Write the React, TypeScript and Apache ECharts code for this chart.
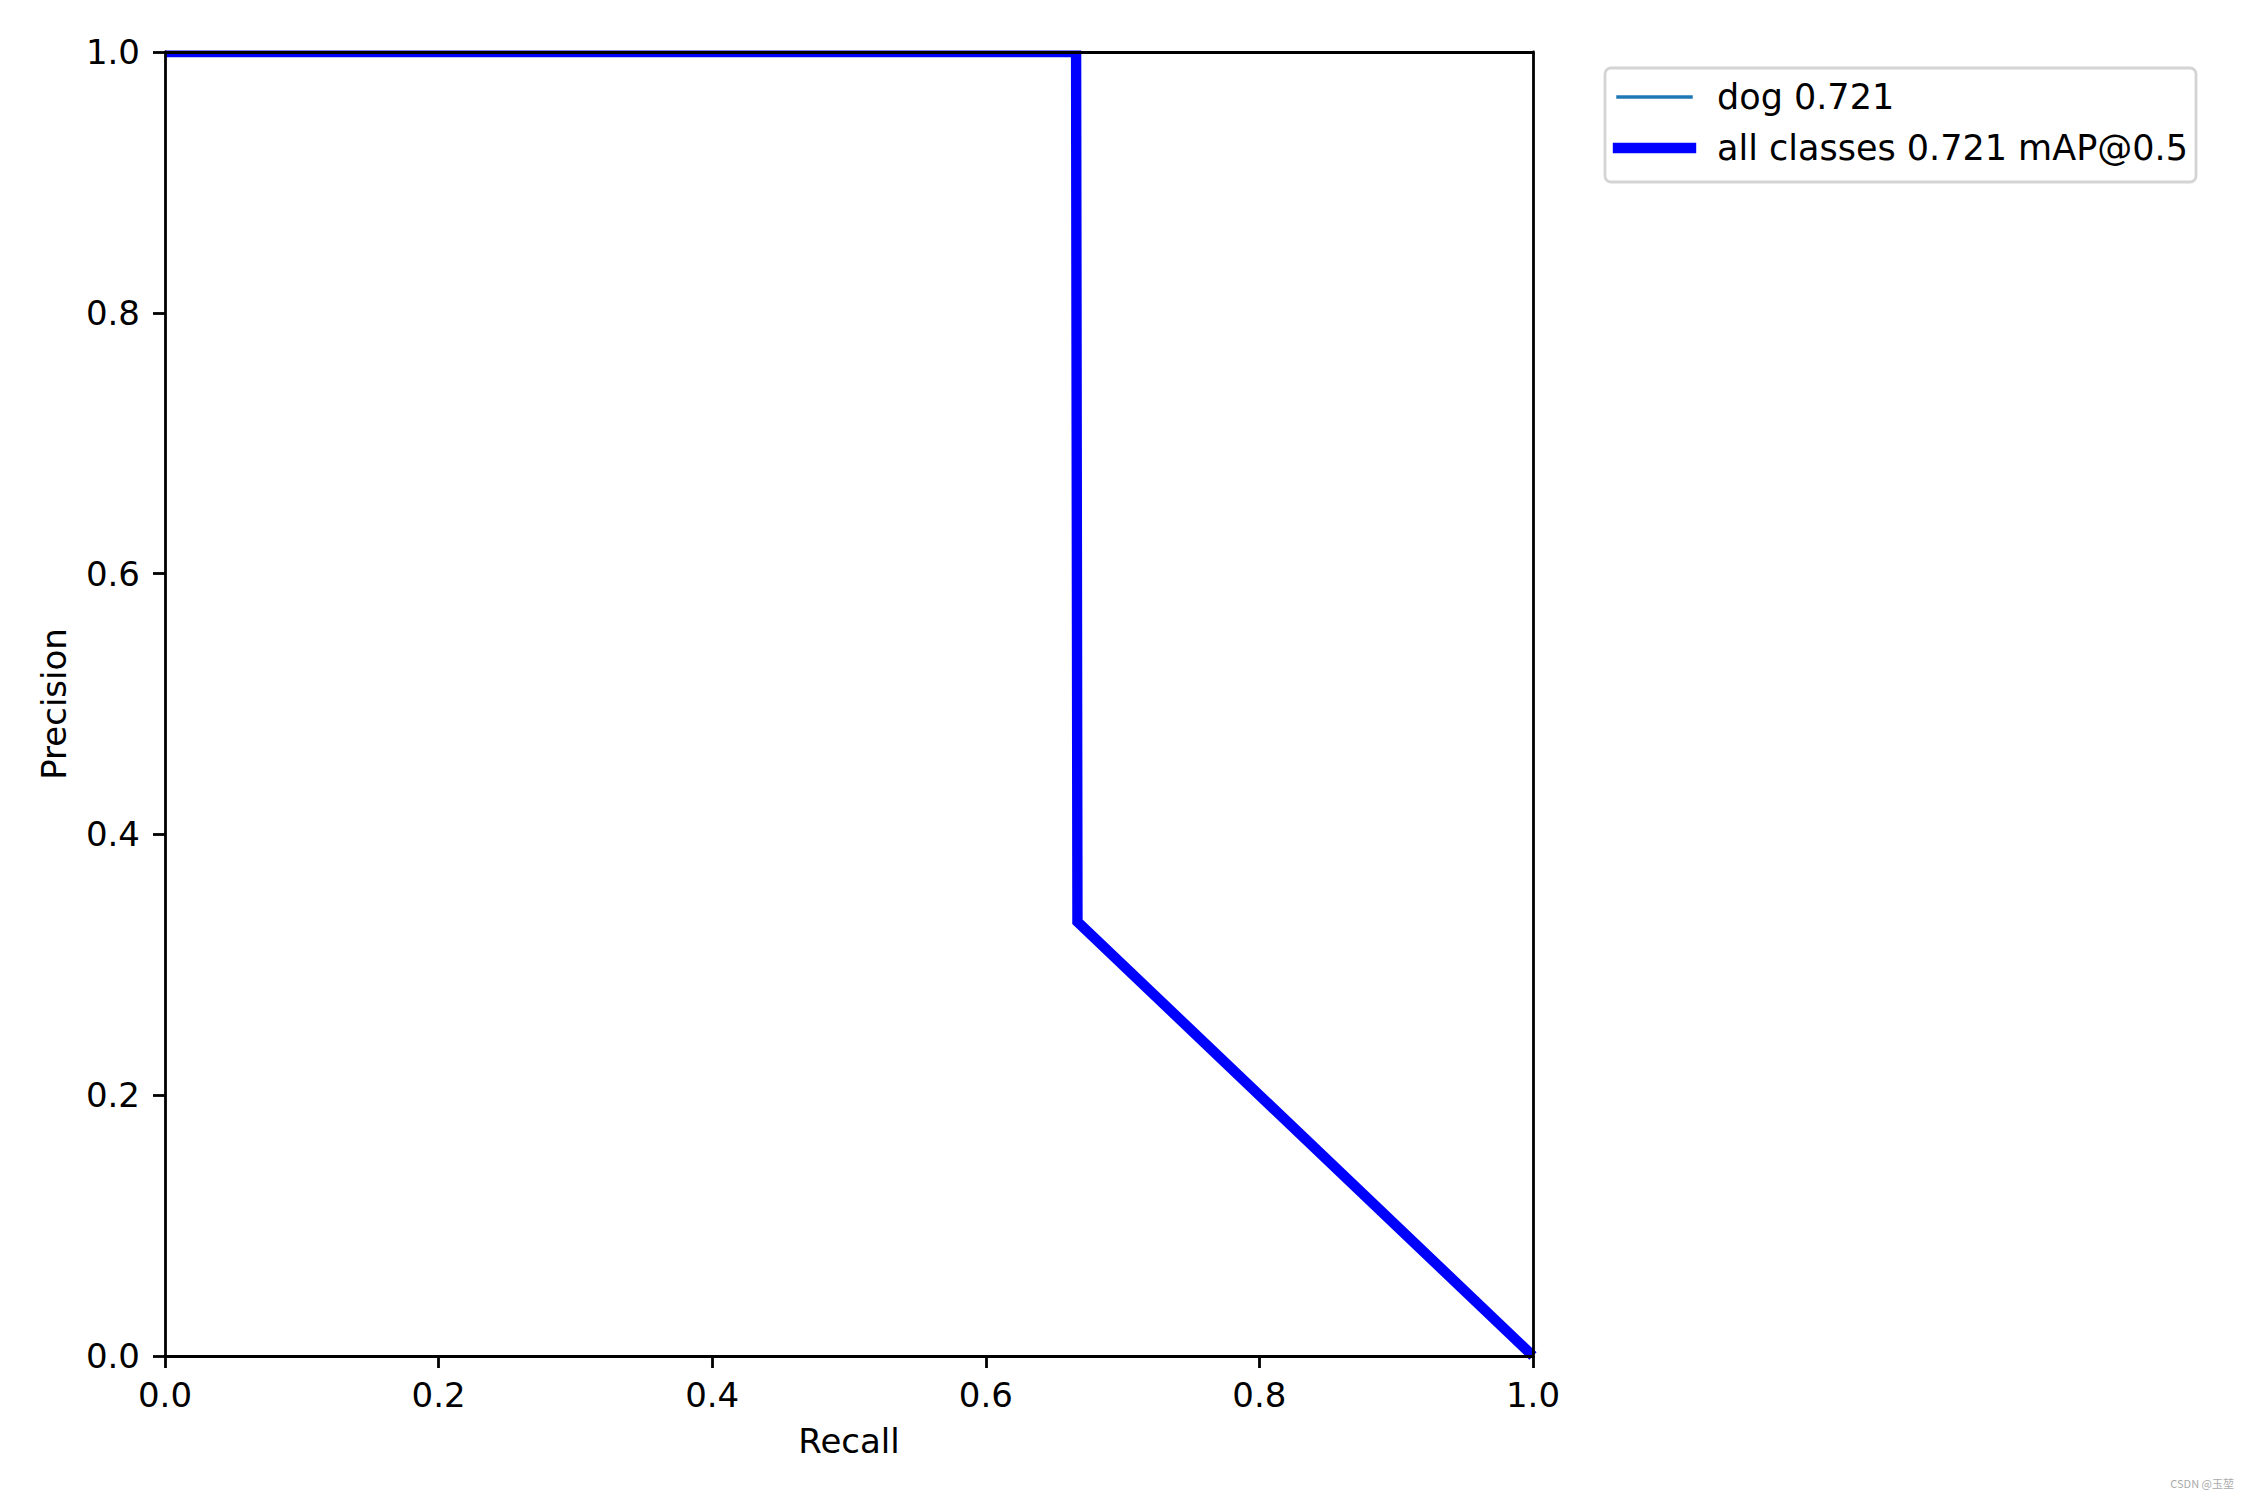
import React, { useEffect, useRef } from "react";
import * as echarts from "echarts";

const recall = [0, 0.666, 0.667, 1];
const precisionDog = [1, 1, 0.333, 0];
const precisionAll = [1, 1, 0.333, 0];
const legendLabels = ["dog 0.721", "all classes 0.721 mAP@0.5"];

const FONT = "'DejaVu Sans', sans-serif";
const FS = 34;

export default function App() {
  const ref = useRef<HTMLDivElement>(null);
  useEffect(() => {
    if (!ref.current) return;
    const chart = echarts.init(ref.current, null, { renderer: "svg" });
    const spine = { show: true, onZero: false, lineStyle: { color: "#000", width: 2.8 } };
    const tick = { show: true, inside: false, length: 12, lineStyle: { color: "#000", width: 2.8 } };
    const base = {
      type: "value",
      min: 0,
      max: 1,
      interval: 0.2,
      splitLine: { show: false },
      z: 10,
    };
    const fmt = (v: number) => v.toFixed(1);
    chart.setOption({
      animation: false,
      backgroundColor: "#fff",
      grid: { left: 165, top: 52, width: 1368, height: 1304, show: false },
      xAxis: [
        {
          ...base,
          position: "bottom",
          axisLine: spine,
          axisTick: tick,
          name: "Recall",
          nameLocation: "middle",
          nameGap: 68,
          nameTextStyle: { fontFamily: FONT, fontSize: FS, color: "#000" },
          axisLabel: { fontFamily: FONT, fontSize: FS, color: "#000", margin: 22, formatter: fmt },
        },
        {
          ...base,
          position: "top",
          axisLine: spine,
          axisTick: { show: false },
          axisLabel: { show: false },
        },
      ],
      yAxis: [
        {
          ...base,
          position: "left",
          axisLine: spine,
          axisTick: tick,
          name: "Precision",
          nameLocation: "middle",
          nameGap: 94,
          nameTextStyle: { fontFamily: FONT, fontSize: FS, color: "#000" },
          axisLabel: { fontFamily: FONT, fontSize: FS, color: "#000", margin: 25, formatter: fmt },
        },
        {
          ...base,
          position: "right",
          axisLine: spine,
          axisTick: { show: false },
          axisLabel: { show: false },
        },
      ],
      series: [
        {
          name: legendLabels[0],
          type: "line",
          xAxisIndex: 0,
          yAxisIndex: 0,
          data: recall.map((r, i) => [r, precisionDog[i]]),
          symbol: "none",
          lineStyle: { color: "#1f77b4", width: 3.5 },
          clip: true,
          z: 2,
        },
        {
          name: legendLabels[1],
          type: "line",
          xAxisIndex: 0,
          yAxisIndex: 0,
          data: recall.map((r, i) => [r, precisionAll[i]]),
          symbol: "none",
          lineStyle: { color: "#0000ff", width: 10.4, join: "miter" },
          clip: true,
          z: 3,
        },
      ],
      graphic: [
        {
          type: "rect",
          shape: { x: 160, y: 34, width: 1380, height: 16.6 },
          style: { fill: "#ffffff" },
          z: 5,
        },
        {
          type: "rect",
          shape: { x: 1605, y: 68, width: 591, height: 114, r: 6 },
          style: { fill: "rgba(255,255,255,0.8)", stroke: "#d4d4d4", lineWidth: 2.8 },
          z: 20,
        },
        {
          type: "line",
          shape: { x1: 1618, y1: 97, x2: 1691, y2: 97 },
          style: { stroke: "#1f77b4", lineWidth: 3.5, lineCap: "square" },
          z: 21,
        },
        {
          type: "line",
          shape: { x1: 1618, y1: 148, x2: 1691, y2: 148 },
          style: { stroke: "#0000ff", lineWidth: 10.4, lineCap: "square" },
          z: 21,
        },
        {
          type: "text",
          x: 1717,
          y: 97,
          style: { text: legendLabels[0], fontFamily: FONT, fontSize: 35, fill: "#000", verticalAlign: "middle" },
          z: 21,
        },
        {
          type: "text",
          x: 1717,
          y: 148,
          style: { text: legendLabels[1], fontFamily: FONT, fontSize: 35, fill: "#000", verticalAlign: "middle" },
          z: 21,
        },
        {
          type: "text",
          x: 2234,
          y: 1483,
          style: {
            text: "CSDN @玉堃",
            fontFamily: "'Noto Sans CJK SC', sans-serif",
            fontSize: 11,
            fill: "#aaaaaa",
            align: "right",
            verticalAlign: "middle",
          },
          z: 21,
        },
      ],
    });
    return () => chart.dispose();
  }, []);
  return <div ref={ref} style={{ position: "fixed", left: 0, top: 0, width: 2250, height: 1500 }} />;
}
